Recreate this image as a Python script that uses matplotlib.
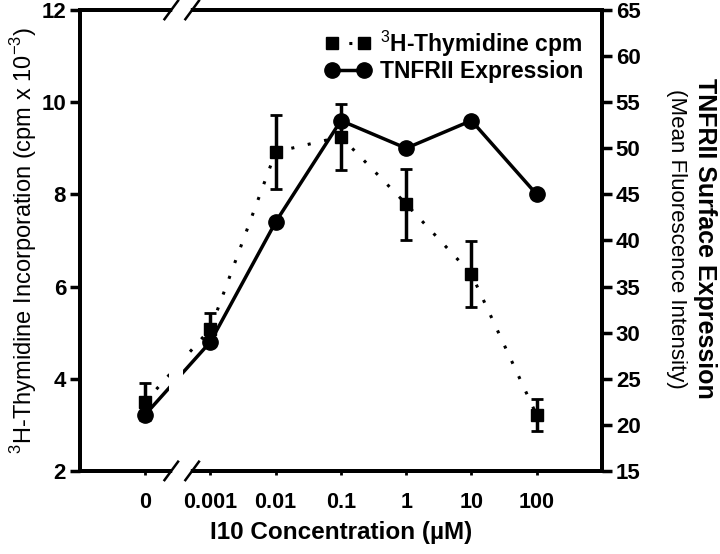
import numpy as np
import matplotlib.pyplot as plt
import matplotlib.transforms as mtransforms
from matplotlib.patches import Rectangle

plt.rcParams['font.family'] = ['Liberation Sans', 'DejaVu Sans']
plt.rcParams['mathtext.fontset'] = 'custom'
plt.rcParams['mathtext.rm'] = 'Liberation Sans'
plt.rcParams['mathtext.bf'] = 'Liberation Sans:bold'

conc_labels = ["0", "0.001", "0.01", "0.1", "1", "10", "100"]
thymidine = [3.5, 5.08, 8.92, 9.25, 7.79, 6.27, 3.21]
thymidine_err = [0.4, 0.35, 0.81, 0.72, 0.77, 0.72, 0.35]
tnfrii = [21.1, 29.0, 42.0, 53.0, 50.0, 53.0, 45.0]

x = np.arange(len(conc_labels))

fig = plt.figure(figsize=(7.2, 5.54), dpi=100)
ax = fig.add_axes([0.111, 0.150, 0.725, 0.832])
ax2 = ax.twinx()

ax.errorbar(x, thymidine, yerr=thymidine_err, fmt='s', color='black',
            markersize=9, ecolor='black', elinewidth=2.5, capsize=4,
            capthick=2, zorder=3)
ax.plot(x, thymidine, color='black', linestyle=(0, (1, 4.5)), linewidth=2.2,
        zorder=2)
ax2.plot(x, tnfrii, color='black', marker='o', markersize=11, linewidth=2.5,
         zorder=2)

ax.set_xlim(-1, 7)
ax.set_ylim(2, 12)
ax2.set_ylim(15, 65)

# gap in the curves at the axis break
trans = mtransforms.blended_transform_factory(ax2.transData, ax2.transAxes)
ax2.add_patch(Rectangle((0.37, 0.03), 0.21, 0.94, transform=trans,
                        facecolor='white', edgecolor='none', zorder=5))

ax.set_xticks(x)
ax.set_xticklabels(conc_labels)
ax.set_yticks(np.arange(2, 13, 2))
ax2.set_yticks(np.arange(15, 66, 5))

for a in (ax, ax2):
    for s in a.spines.values():
        s.set_linewidth(2.8)
ax.tick_params(axis='y', direction='out', length=7, width=2.5, labelsize=16,
               pad=3)
ax2.tick_params(axis='y', direction='out', length=7, width=2.5, labelsize=16,
                pad=3)
ax.tick_params(axis='x', direction='out', length=3, width=2, labelsize=15.5,
               pad=12)
for lab in ax.get_xticklabels() + ax.get_yticklabels() + ax2.get_yticklabels():
    lab.set_fontweight('bold')

# axis break marks
for yb in (0.0, 1.0):
    ax2.plot([0.1825, 0.2075], [yb, yb], transform=ax.transAxes, color='white',
             lw=4, clip_on=False, zorder=10)
    for xb in (0.175, 0.215):
        ax2.plot([xb - 0.013, xb + 0.013], [yb - 0.02, yb + 0.02],
                 transform=ax.transAxes, color='black', lw=1.8,
                 clip_on=False, zorder=11)

ax.set_xlabel("I10 Concentration (µM)", fontsize=17.5, fontweight='bold',
              labelpad=6)
ax.set_ylabel("$^{3}$H-Thymidine Incorporation (cpm x 10$^{-3}$)",
              fontsize=17, labelpad=2)
fig.text(0.940, 0.569, "(Mean Fluorescence Intensity)", rotation=-90,
         ha='center', va='center', fontsize=16)
fig.text(0.979, 0.569, "TNFRII Surface Expression", rotation=-90,
         ha='center', va='center', fontsize=18, fontweight='bold')

h1 = plt.Line2D([], [], color='black', marker='s', markersize=9,
                linestyle=(0, (1, 4.5)), linewidth=2.2)
h2 = plt.Line2D([], [], color='black', marker='o', markersize=11,
                linewidth=2.5)
leg = ax2.legend([h1, h2], ["$^{3}$H-Thymidine cpm", "TNFRII Expression"],
                 loc='upper right', frameon=False, numpoints=2,
                 handlelength=2.0, fontsize=16.5, borderaxespad=0.3,
                 handletextpad=0.4, labelspacing=0.05,
                 bbox_to_anchor=(0.995, 0.995))
for t in leg.get_texts():
    t.set_fontweight('bold')

fig.savefig("out.png", dpi=100)
